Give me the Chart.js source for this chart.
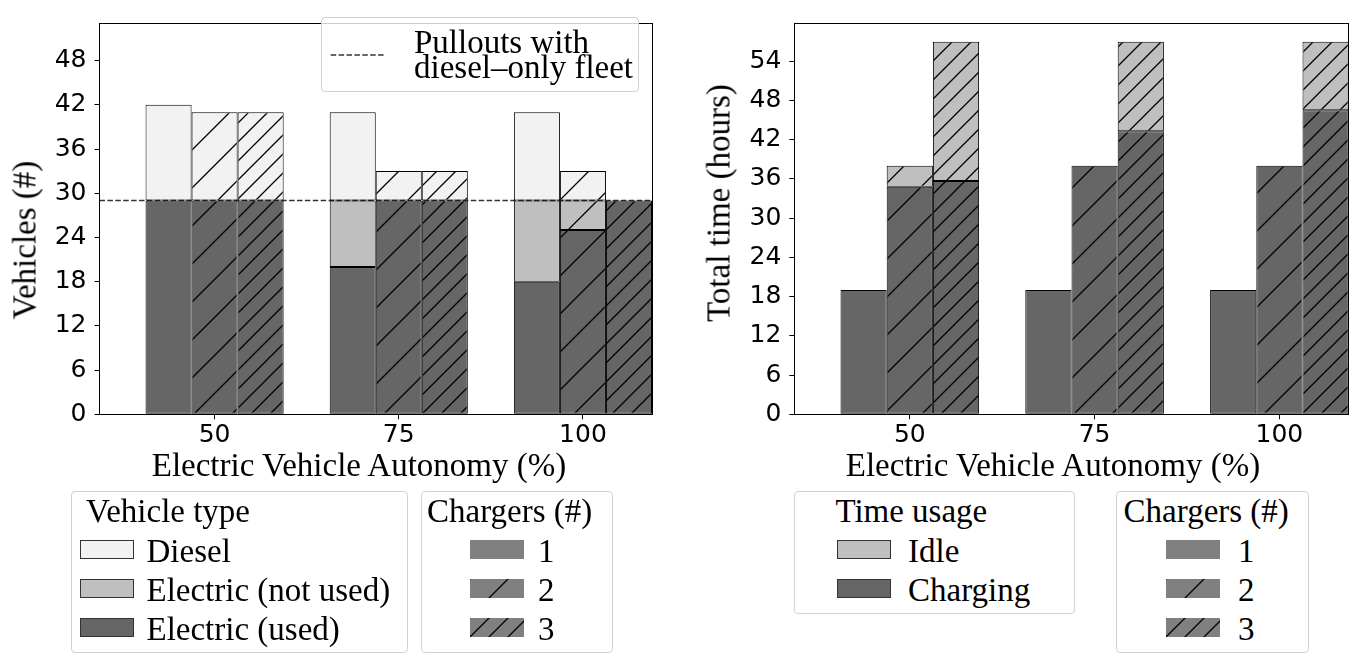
<!DOCTYPE html>
<html>
<head>
<meta charset="utf-8">
<script src="https://cdn.jsdelivr.net/npm/chart.js@4.4.1/dist/chart.umd.min.js"></script>
<style>
  html, body { margin: 0; padding: 0; background: #fff; }
  #page { position: relative; width: 1363px; height: 658px; overflow: hidden; }
  canvas { position: absolute; top: 0; }
  .t { position: absolute; white-space: pre; line-height: 1; color: #000;
       font-family: 'Liberation Serif', 'Times New Roman', serif; }
  .box { position: absolute; box-sizing: border-box; border: 1px solid #d2d2d2;
         border-radius: 4px; background: rgba(255,255,255,0.8); }
  .sw { position: absolute; box-sizing: border-box; }
</style>
</head>
<body>
<div id="page">
  <canvas id="vehicles" width="680" height="460" style="left:0"></canvas>
  <canvas id="hours" width="673" height="460" style="left:690px"></canvas>
</div>
<script>
// ---- data ----
const autonomy = ['50', '75', '100'];          // x tick labels (%)
const chargerCounts = ['1', '2', '3'];

// left: vehicles (#), stacked used / not used / diesel
const usedC1 = [29, 20, 18];
const usedC2 = [29, 29, 25];
const usedC3 = [29, 29, 29];
const notUsedC1 = [0, 9, 11];
const notUsedC2 = [0, 0, 4];
const notUsedC3 = [0, 0, 0];
const dieselC1 = [13, 12, 12];
const dieselC2 = [12, 4, 4];
const dieselC3 = [12, 4, 0];
const pulloutsDieselOnly = 29;

// right: total time (hours), stacked charging / idle
const chargingC1 = [19, 19, 19];
const chargingC2 = [34.8, 38, 38];
const chargingC3 = [35.7, 43.3, 46.5];
const idleC1 = [0, 0, 0];
const idleC2 = [3.2, 0, 0];
const idleC3 = [21.3, 13.7, 10.5];

const vehicleTypes = ['Diesel', 'Electric (not used)', 'Electric (used)'];
const timeUsages = ['Idle', 'Charging'];

// ---- styles ----
const DIESEL = '#f2f2f2', SPARE = '#bfbfbf', USED = '#666666', SWATCH = '#808080';
const EDGE = '#000000';
const hatchSteps = [0, 38, 19];   // none, '/', '//'
const xLim = [-0.625, 2.375];
const tickFont = { family: 'DejaVu Sans', size: 25 };

function hatch(bg, step) {
  const c = document.createElement('canvas');
  c.width = c.height = step;
  const g = c.getContext('2d');
  g.fillStyle = bg;
  g.fillRect(0, 0, step, step);
  g.strokeStyle = '#000';
  g.lineWidth = 1.3;
  g.beginPath();
  for (const k of [-step, 0, step]) {
    g.moveTo(k - 1, step + 1);
    g.lineTo(k + step + 1, -1);
  }
  g.stroke();
  return g.createPattern(c, 'repeat');
}
function fillFor(color, k) {
  return hatchSteps[k] ? hatch(color, hatchSteps[k]) : color;
}

function barSet(values, k, color) {
  return {
    type: 'bar',
    data: values.map((v, i) => ({ x: i, y: v })),
    stack: 'c' + k,
    backgroundColor: fillFor(color, k),
    borderColor: EDGE,
    borderWidth: 1,
    borderSkipped: false,
    inflateAmount: 0,
    categoryPercentage: 0.75,
    barPercentage: 1,
    clip: 0,
    order: 1
  };
}

const framePlugin = {
  id: 'frame',
  afterDraw(chart) {
    const { ctx, chartArea: a } = chart;
    const l = Math.floor(a.left) + 0.5, t = Math.floor(a.top) + 0.5;
    const r = Math.floor(a.right) + 0.5, b = Math.floor(a.bottom) + 0.5;
    ctx.save();
    ctx.strokeStyle = '#000';
    ctx.lineWidth = 1;
    ctx.strokeRect(l, t, r - l, b - t);
    ctx.restore();
  }
};

function axes(yMax, yWidth) {
  const grid = { display: true, drawOnChartArea: false, offset: false, tickLength: 5, color: '#000', lineWidth: 1 };
  return {
    x: {
      type: 'linear', min: xLim[0], max: xLim[1], offset: false,
      afterBuildTicks: s => { s.ticks = autonomy.map((_, i) => ({ value: i })); },
      afterFit: s => { s.height = 45.7; },
      grid: grid,
      border: { display: false },
      ticks: { callback: v => autonomy[v], font: tickFont, color: '#000', padding: 1, maxRotation: 0, autoSkip: false }
    },
    y: {
      min: 0, max: yMax, stacked: true,
      afterFit: s => { s.width = yWidth; },
      grid: grid,
      border: { display: false },
      ticks: { stepSize: 6, includeBounds: false, font: tickFont, color: '#000', padding: 8 }
    }
  };
}

// ---- left chart ----
const usedAll = [usedC1, usedC2, usedC3];
const notUsedAll = [notUsedC1, notUsedC2, notUsedC3];
const dieselAll = [dieselC1, dieselC2, dieselC3];
const leftSets = [];
for (let k = 0; k < 3; k++) {
  leftSets.push(barSet(usedAll[k], k, USED));
  leftSets.push(barSet(notUsedAll[k], k, SPARE));
  leftSets.push(barSet(dieselAll[k], k, DIESEL));
}
leftSets.push({
  type: 'line',
  data: xLim.map(x => ({ x: x, y: pulloutsDieselOnly })),
  stack: 'ref',
  borderColor: 'rgba(0,0,0,0.8)',
  borderWidth: 1.5,
  borderDash: [5.5, 2.4],
  pointRadius: 0,
  clip: 0,
  order: 0
});

new Chart(document.getElementById('vehicles'), {
  type: 'bar',
  data: { datasets: leftSets },
  options: {
    responsive: false, animation: false, events: [],
    layout: { padding: { left: 0, top: 3.3, right: 28, bottom: 0 } },
    plugins: { legend: { display: false }, tooltip: { enabled: false } },
    scales: axes(53.1, 99.5)
  },
  plugins: [framePlugin]
});

// ---- right chart ----
const chargingAll = [chargingC1, chargingC2, chargingC3];
const idleAll = [idleC1, idleC2, idleC3];
const rightSets = [];
for (let k = 0; k < 3; k++) {
  rightSets.push(barSet(chargingAll[k], k, USED));
  rightSets.push(barSet(idleAll[k], k, SPARE));
}

new Chart(document.getElementById('hours'), {
  type: 'bar',
  data: { datasets: rightSets },
  options: {
    responsive: false, animation: false, events: [],
    layout: { padding: { left: 0, top: 3.3, right: 14.3, bottom: 0 } },
    plugins: { legend: { display: false }, tooltip: { enabled: false } },
    scales: axes(59.85, 104.3)
  },
  plugins: [framePlugin]
});

// ---- titles and legends (HTML text) ----
const page = document.getElementById('page');
const FS = 33;
function text(str, x, base, extra) {
  const d = document.createElement('div');
  d.className = 't';
  d.textContent = str;
  d.style.fontSize = FS + 'px';
  d.style.left = x + 'px';
  d.style.top = (base - 0.8375 * FS) + 'px';
  if (extra) Object.assign(d.style, extra);
  page.appendChild(d);
  return d;
}
function vtext(str, cx, cy) {
  const d = document.createElement('div');
  d.className = 't';
  d.textContent = str;
  d.style.fontSize = FS + 'px';
  d.style.left = cx + 'px';
  d.style.top = cy + 'px';
  d.style.transform = 'translate(-50%,-50%) rotate(-90deg)';
  page.appendChild(d);
}
function box(x, y, w, h) {
  const d = document.createElement('div');
  d.className = 'box';
  Object.assign(d.style, { left: x + 'px', top: y + 'px', width: w + 'px', height: h + 'px' });
  page.appendChild(d);
}
function plainSwatch(x, y, color) {
  const d = document.createElement('div');
  d.className = 'sw';
  Object.assign(d.style, { left: x + 'px', top: y + 'px', width: '54px', height: '19px',
    background: color, border: '1.5px solid #333' });
  page.appendChild(d);
}
function hatchSwatch(x, y, k) {
  const c = document.createElement('canvas');
  c.width = 54; c.height = 19;
  c.style.left = x + 'px';
  c.style.top = y + 'px';
  const g = c.getContext('2d');
  g.fillStyle = fillFor(SWATCH, k);
  g.fillRect(0, 0, 54, 19);
  page.appendChild(c);
}

// axis titles
text('Electric Vehicle Autonomy (%)', 359, 477, { transform: 'translateX(-50%)' });
text('Electric Vehicle Autonomy (%)', 1053, 477, { transform: 'translateX(-50%)' });
vtext('Vehicles (#)', 25, 240);
vtext('Total time (hours)', 719, 203);

// legend inside left plot
box(320.7, 17.3, 318.3, 74.4);
const ns = 'http://www.w3.org/2000/svg';
const svg = document.createElementNS(ns, 'svg');
svg.setAttribute('width', '56');
svg.setAttribute('height', '10');
Object.assign(svg.style, { position: 'absolute', left: '330px', top: '50px' });
const ln = document.createElementNS(ns, 'line');
ln.setAttribute('x1', '0.7'); ln.setAttribute('x2', '55');
ln.setAttribute('y1', '5'); ln.setAttribute('y2', '5');
ln.setAttribute('stroke', 'rgba(0,0,0,0.8)');
ln.setAttribute('stroke-width', '1.5');
ln.setAttribute('stroke-dasharray', '5.5 2.4');
svg.appendChild(ln);
page.appendChild(svg);
text('Pullouts with', 414, 53.3);
text('diesel\u2013only fleet', 414, 78.3);

const ROW0 = 540, ROWSTEP = 39.2;

// Vehicle type legend
box(70.6, 490.7, 337, 162);
text('Vehicle type', 86, 523);
const typeColors = [DIESEL, SPARE, USED];
vehicleTypes.forEach((lab, i) => {
  plainSwatch(80, ROW0 + i * ROWSTEP, typeColors[i]);
  text(lab, 146.5, ROW0 + i * ROWSTEP + 22.5);
});

// Chargers legend (left)
box(420.7, 490.7, 192.6, 162);
text('Chargers (#)', 427, 523);
chargerCounts.forEach((lab, i) => {
  hatchSwatch(470, ROW0 + i * ROWSTEP, i);
  text(lab, 538, ROW0 + i * ROWSTEP + 22.5);
});

// Time usage legend
box(793.5, 490.7, 281.7, 123.6);
text('Time usage', 835.4, 523);
const usageColors = [SPARE, USED];
timeUsages.forEach((lab, i) => {
  plainSwatch(836.7, ROW0 + i * ROWSTEP, usageColors[i]);
  text(lab, 908, ROW0 + i * ROWSTEP + 22.5);
});

// Chargers legend (right)
box(1116.2, 490.7, 192.8, 162);
text('Chargers (#)', 1123.6, 523);
chargerCounts.forEach((lab, i) => {
  hatchSwatch(1165.8, ROW0 + i * ROWSTEP, i);
  text(lab, 1238, ROW0 + i * ROWSTEP + 22.5);
});
</script>
</body>
</html>
